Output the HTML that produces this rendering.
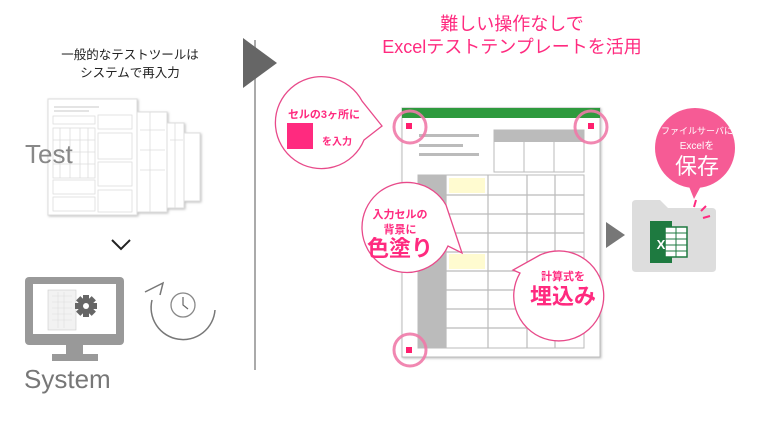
<!DOCTYPE html><html><head><meta charset="utf-8"><style>
body{margin:0;width:762px;height:423px;background:#fff;overflow:hidden;font-family:"Liberation Sans","Noto Sans CJK JP",sans-serif}
</style></head><body>
<svg width="762" height="423" viewBox="0 0 762 423" xmlns="http://www.w3.org/2000/svg" style="position:absolute;left:0;top:0">
<defs><filter id="sh"><feDropShadow dx="1" dy="1" stdDeviation="1.2" flood-color="#000" flood-opacity="0.25"/></filter></defs>
<g font-family="Liberation Sans, Noto Sans CJK JP, sans-serif">
<text x="130" y="59" font-size="12.5" text-anchor="middle" fill="#222">一般的なテストツールは</text>
<text x="130" y="77" font-size="12.5" text-anchor="middle" fill="#222">システムで再入力</text>
<g filter="url(#sh)" fill="#fff" stroke="#ddd">
<rect x="183" y="133" width="17" height="68"/>
<rect x="166" y="123" width="18" height="85"/>
<rect x="137" y="112" width="30" height="100"/>
<rect x="48" y="99" width="89" height="116"/>
</g>
<g stroke="#ddd" fill="none" stroke-width="0.8">
<rect x="53" y="116" width="42" height="8"/><rect x="98" y="115" width="34" height="14"/>
<rect x="53" y="128" width="42" height="50"/><rect x="98" y="133" width="34" height="26"/>
<rect x="98" y="162" width="34" height="24"/><rect x="53" y="180" width="42" height="14"/>
<rect x="53" y="197" width="42" height="14"/><rect x="98" y="190" width="34" height="22"/>
<path d="M60 128V178M70 128V178M80 128V178M88 128V178M53 140H95M53 152H95M53 164H95M140 130H165M140 150H165M140 170H165M150 112V212M170 140H183M175 123V208"/>
</g>
<rect x="54" y="106" width="45" height="2" fill="#e4e4e4"/><rect x="54" y="110" width="35" height="2" fill="#e4e4e4"/>
<text x="25" y="163" font-size="26" fill="#888">Test</text>
<path d="M112 240L121 249L130 240" stroke="#222" stroke-width="2" fill="none"/>
<rect x="25" y="277" width="99" height="68" rx="4" fill="#999"/>
<rect x="33" y="284" width="83" height="50" fill="#fff"/>
<rect x="48" y="290" width="28" height="40" fill="#f2f2f2" stroke="#ccc" stroke-width="0.6"/>
<path d="M52 296H72M52 302H72M52 308H72M52 314H72M52 320H72M58 292V328M64 292V328" stroke="#ddd" stroke-width="0.6"/>
<g fill="#666" transform="translate(86 306)">
<rect x="-3" y="-11" width="6" height="22"/><rect x="-11" y="-3" width="22" height="6"/>
<rect x="-3" y="-11" width="6" height="22" transform="rotate(45)"/><rect x="-3" y="-11" width="6" height="22" transform="rotate(-45)"/>
<circle r="8"/><circle r="3" fill="#fff"/>
</g>
<rect x="66" y="345" width="17" height="10" fill="#999"/><rect x="52" y="354" width="46" height="7" fill="#999"/>
<text x="24" y="388" font-size="26" fill="#777">System</text>
<path d="M152 300A32 32 0 1 0 215 310" fill="none" stroke="#777" stroke-width="1.5"/>
<path d="M145 292L163 283L160 295" fill="none" stroke="#777" stroke-width="1.5"/>
<circle cx="183" cy="305" r="12" fill="#fff" stroke="#888" stroke-width="1.3"/>
<path d="M183 297V305L188 309" stroke="#666" stroke-width="1.2" fill="none"/>
<line x1="255" y1="40" x2="255" y2="370" stroke="#aaa" stroke-width="2"/>
<path d="M243 38L277 63L243 88Z" fill="#666"/>
<text x="512" y="30" font-size="18" text-anchor="middle" fill="#ff2a7f">難しい操作なしで</text>
<text x="512" y="53" font-size="18" text-anchor="middle" fill="#ff2a7f">Excelテストテンプレートを活用</text>
<rect x="402" y="108" width="198" height="249" fill="#fff" stroke="#bbb" filter="url(#sh)"/>
<rect x="402" y="108" width="198" height="10" fill="#2e9a3e"/>
<rect x="419" y="134" width="60" height="3" fill="#bbb"/><rect x="419" y="144" width="44" height="3" fill="#bbb"/><rect x="419" y="153" width="60" height="3" fill="#bbb"/>
<rect x="494" y="130" width="90" height="42" fill="#fff" stroke="#bbb"/><rect x="494" y="130" width="90" height="12" fill="#bbb"/>
<path d="M524 142V172M554 142V172" stroke="#bbb"/>
<rect x="418" y="175" width="166" height="173" fill="#fff" stroke="#bbb"/>
<rect x="418" y="175" width="28" height="173" fill="#bbb"/>
<rect x="449" y="178" width="36" height="15" fill="#fffbd0"/><rect x="449" y="254" width="36" height="15" fill="#fffbd0"/>
<g stroke="#bbb" stroke-width="1.2"><path d="M446 175V348M488 175V348M527 175V348M555 175V348M446 195H584M446 214H584M446 233H584M446 252H584M446 271H584M446 290H584M446 309H584M446 328H584"/></g>
<g fill="none" stroke="#ef7aa8" stroke-width="3" opacity="0.9"><circle cx="410" cy="127" r="16"/><circle cx="591" cy="127" r="16"/><circle cx="410" cy="350" r="16"/></g>
<g fill="#ff1f6e"><rect x="406" y="123" width="6" height="6"/><rect x="588" y="123" width="6" height="6"/><rect x="406" y="347" width="6" height="6"/></g>
<g fill="#fff" stroke="#e84a8a" stroke-width="1.3">
<path d="M362 101A46 46 0 1 0 364 140L382 126Z"/>
<path d="M446 205A45 45 0 1 0 448 246L462 253Z"/>
<path d="M520 273A45 45 0 1 0 540 255L513 270Z"/>
</g>
<text x="324" y="118" font-size="11" font-weight="bold" fill="#ff2a7f" text-anchor="middle">セルの3ヶ所に</text>
<rect x="287" y="123" width="26" height="26" fill="#ff2a7f"/>
<text x="337" y="145" font-size="10" font-weight="bold" fill="#ff2a7f" text-anchor="middle">を入力</text>
<text x="400" y="218" font-size="11" font-weight="bold" fill="#ff2a7f" text-anchor="middle">入力セルの</text>
<text x="400" y="233" font-size="11" font-weight="bold" fill="#ff2a7f" text-anchor="middle">背景に</text>
<text x="400" y="256" font-size="22" font-weight="bold" fill="#ff2a7f" text-anchor="middle">色塗り</text>
<text x="563" y="280" font-size="11" font-weight="bold" fill="#ff2a7f" text-anchor="middle">計算式を</text>
<text x="563" y="304" font-size="22" font-weight="bold" fill="#ff2a7f" text-anchor="middle">埋込み</text>
<path d="M606 222L625 235L606 248Z" fill="#777"/>
<path d="M636 200H660L668 208H712Q716 208 716 212V268Q716 272 712 272H636Q632 272 632 268V204Q632 200 636 200Z" fill="#ddd"/>
<rect x="650" y="221" width="22" height="42" fill="#1e7a40"/>
<rect x="665" y="227" width="22" height="30" fill="#fff" stroke="#1e7a40" stroke-width="1.5"/>
<path d="M676 227V257M665 233H687M665 239H687M665 245H687M665 251H687" stroke="#1e7a40" stroke-width="1"/>
<text x="661" y="249" font-size="13" font-weight="bold" fill="#fff" text-anchor="middle">X</text>
<path d="M694 207L696 200M701 211L706 206M703 218L710 216" stroke="#ff2a7f" stroke-width="2"/>
<path d="M688 184L694 199L702 184Z" fill="#f65b95"/>
<circle cx="695" cy="148" r="40" fill="#f65b95"/>
<text x="697" y="134" font-size="9" fill="#fff" text-anchor="middle">ファイルサーバに</text>
<text x="697" y="149" font-size="10" fill="#fff" text-anchor="middle">Excelを</text>
<text x="697" y="174" font-size="22" fill="#fff" text-anchor="middle">保存</text>
</g></svg></body></html>
